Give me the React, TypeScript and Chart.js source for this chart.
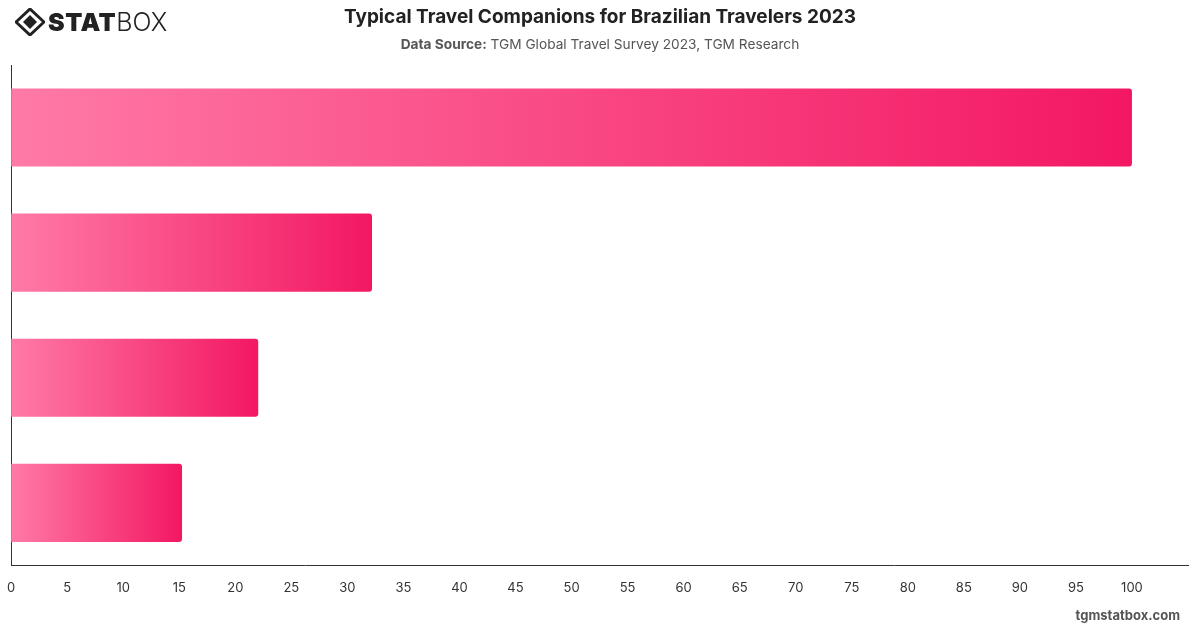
import React, { useEffect, useRef } from "react";
import { Chart, registerables } from "chart.js";

Chart.register(...registerables);

const categories: string[] = ["Family", "Partner", "Friends", "Alone"];
const shares: number[] = [100, 32.2, 22.05, 15.25];
const tickValues: number[] = [0, 5, 10, 15, 20, 25, 30, 35, 40, 45, 50, 55, 60, 65, 70, 75, 80, 85, 90, 95, 100];

const FONT = "Inter, 'Noto Sans', 'Liberation Sans', sans-serif";

function Logo() {
  return (
    <div style={{ position: "absolute", left: 15, top: 6, display: "flex", alignItems: "center", height: 32 }}>
      <svg width="30" height="28" viewBox="0 0 30 28" style={{ marginRight: 3 }}>
        <polygon points="15,1 29,14 15,27 1,14" fill="none" stroke="#222" strokeWidth="3" strokeLinejoin="round" />
        <polygon points="15,7 22,14 15,21 8,14" fill="#222" />
      </svg>
      <span style={{ fontFamily: FONT, fontWeight: 900, fontSize: 25, color: "#222", letterSpacing: 0.5, lineHeight: "32px" }}>STAT</span>
      <span style={{ fontFamily: FONT, fontWeight: 300, fontSize: 25, color: "#222", lineHeight: "32px" }}>BOX</span>
    </div>
  );
}

export default function App() {
  const canvasRef = useRef<HTMLCanvasElement | null>(null);

  useEffect(() => {
    if (!canvasRef.current) return;
    const chart = new Chart(canvasRef.current, {
      type: "bar",
      data: {
        labels: categories,
        datasets: [
          {
            data: shares,
            backgroundColor: (ctx: any) => {
              const c = ctx.chart;
              const area = c.chartArea;
              if (!area || ctx.type !== "data") return "#f5386f";
              const xs = c.scales.x;
              const start = xs.getPixelForValue(0);
              const end = xs.getPixelForValue(ctx.raw as number);
              const g = c.ctx.createLinearGradient(start, 0, Math.max(end, start + 1), 0);
              g.addColorStop(0, "#ff7aa6");
              g.addColorStop(1, "#f31763");
              return g;
            },
            borderRadius: 3,
            borderSkipped: "start",
            barPercentage: 0.624,
            categoryPercentage: 1,
          },
        ],
      },
      options: {
        indexAxis: "y",
        animation: false,
        responsive: false,
        maintainAspectRatio: false,
        layout: { padding: { top: 65, left: 10, right: 12, bottom: 25 } },
        plugins: {
          legend: { display: false },
          title: { display: false },
          tooltip: { enabled: false },
        },
        scales: {
          x: {
            type: "linear",
            min: 0,
            max: 105,
            afterBuildTicks: (axis: any) => {
              axis.ticks = tickValues.map((v) => ({ value: v }));
            },
            grid: { display: false, drawTicks: true, tickLength: 8 },
            border: { display: true, color: "#333", width: 1 },
            ticks: {
              padding: 7,
              color: "#333",
              font: { family: FONT, size: 13 },
              maxRotation: 0,
              autoSkip: false,
            },
          },
          y: {
            grid: { display: false, drawTicks: false },
            border: { display: true, color: "#333", width: 1 },
            ticks: { display: false },
          },
        },
      },
    });
    return () => chart.destroy();
  }, []);

  return (
    <div style={{ position: "absolute", left: 0, top: 0, width: 1200, height: 628, background: "#fff", overflow: "hidden" }}>
      <canvas ref={canvasRef} width={1200} height={628} style={{ position: "absolute", left: 0, top: 0 }} />
      <Logo />
      <div
        style={{
          position: "absolute",
          left: 0,
          top: 4,
          width: 1200,
          textAlign: "center",
          fontFamily: FONT,
          fontWeight: 700,
          fontSize: 19,
          color: "#222",
          lineHeight: "26px",
        }}
      >
        Typical Travel Companions for Brazilian Travelers 2023
      </div>
      <div
        style={{
          position: "absolute",
          left: 0,
          top: 35,
          width: 1200,
          textAlign: "center",
          fontFamily: FONT,
          fontSize: 13.7,
          color: "#555",
          lineHeight: "18px",
        }}
      >
        <b style={{ color: "#555" }}>Data Source:</b> TGM Global Travel Survey 2023, TGM Research
      </div>
      <div
        style={{
          position: "absolute",
          right: 20,
          top: 606,
          fontFamily: FONT,
          fontWeight: 700,
          fontSize: 13,
          color: "#555",
          lineHeight: "18px",
        }}
      >
        tgmstatbox.com
      </div>
    </div>
  );
}
